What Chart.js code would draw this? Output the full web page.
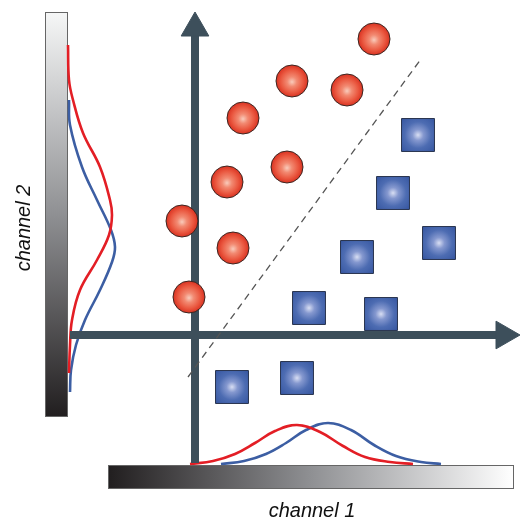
<!DOCTYPE html>
<html>
<head>
<meta charset="utf-8">
<script src="https://cdn.jsdelivr.net/npm/chart.js@4.4.1/dist/chart.umd.min.js"></script>
<style>
  html, body { margin: 0; padding: 0; background: #fff; }
  #wrap { width: 521px; height: 521px; }
</style>
</head>
<body>
<div id="wrap"><canvas id="chart"></canvas></div>
<script>
// values in chart units (origin where the two axes cross)
const redPoints = [
  {x: 17.9, y: 29.6}, {x: 9.7, y: 25.4}, {x: 15.2, y: 24.5},
  {x: 4.8, y: 21.7}, {x: 9.2, y: 16.8}, {x: 3.2, y: 15.3},
  {x: -1.3, y: 11.4}, {x: 3.8, y: 8.7}, {x: -0.6, y: 3.8}
];
const bluePoints = [
  {x: 22.3, y: 20.0}, {x: 19.8, y: 14.2}, {x: 24.4, y: 9.2},
  {x: 16.2, y: 7.8}, {x: 11.4, y: 2.7}, {x: 18.6, y: 2.1},
  {x: 3.7, y: -5.2}, {x: 10.2, y: -4.3}
];
const separator = [{x: -0.7, y: -4.2}, {x: 22.6, y: 27.6}];

// distributions projected on channel 1 (bottom)
const redCh1 = [
  {x: -0.5, y: -12.9}, {x: 1.8, y: -12.6}, {x: 4.0, y: -11.9}, {x: 6.0, y: -10.8},
  {x: 8.0, y: -9.6}, {x: 10.2, y: -9.0}, {x: 12.5, y: -9.7}, {x: 14.8, y: -11.1},
  {x: 17.0, y: -12.2}, {x: 19.5, y: -12.7}, {x: 21.8, y: -12.9}
];
const blueCh1 = [
  {x: 2.6, y: -12.9}, {x: 4.9, y: -12.6}, {x: 7.1, y: -11.9}, {x: 9.1, y: -10.8},
  {x: 11.1, y: -9.5}, {x: 13.3, y: -8.8}, {x: 15.6, y: -9.5}, {x: 17.9, y: -11.0},
  {x: 20.1, y: -12.1}, {x: 22.6, y: -12.7}, {x: 24.6, y: -12.9}
];
// distributions projected on channel 2 (left)
const redCh2 = [
  {x: -12.7, y: 29.0}, {x: -12.6, y: 25.5}, {x: -12.2, y: 23.5}, {x: -11.2, y: 20.2},
  {x: -9.5, y: 16.8}, {x: -8.5, y: 13.5}, {x: -8.3, y: 12.0}, {x: -8.6, y: 10.0},
  {x: -9.8, y: 7.5}, {x: -11.5, y: 4.5}, {x: -12.3, y: 1.5}, {x: -12.5, y: -1.0},
  {x: -12.6, y: -3.8}
];
const blueCh2 = [
  {x: -12.6, y: 23.5}, {x: -12.5, y: 21.0}, {x: -11.3, y: 16.8}, {x: -9.8, y: 13.5},
  {x: -8.4, y: 10.5}, {x: -8.0, y: 8.8}, {x: -8.3, y: 7.3}, {x: -9.5, y: 4.5},
  {x: -11.0, y: 1.5}, {x: -11.9, y: -1.0}, {x: -12.4, y: -3.5}, {x: -12.5, y: -5.7}
];
const axisX = [{x: -12.5, y: 0}, {x: 30.9, y: 0}];
const axisY = [{x: 0, y: -12.8}, {x: 0, y: 30.7}];
const labels = ['channel 1', 'channel 2'];

const AXIS_COLOR = '#3d4f5b';

function pix(ctx) {
  let c = ctx.chart, p = ctx.raw;
  if (!c.scales || !c.scales.x || !c.scales.y) return [NaN, NaN];
  return [c.scales.x.getPixelForValue(p.x), c.scales.y.getPixelForValue(p.y)];
}

function ballFill(ctx) {
  if (!ctx.raw) return '#e8402e';
  let [px, py] = pix(ctx);
  if (!isFinite(px) || !isFinite(py)) return '#e8402e';
  let g = ctx.chart.ctx.createRadialGradient(px, py + 1, 0, px, py, 16);
  g.addColorStop(0, '#f9cbbb');
  g.addColorStop(0.3, '#f28a72');
  g.addColorStop(0.7, '#ea5840');
  g.addColorStop(1, '#d93221');
  return g;
}

function boxFill(ctx) {
  if (!ctx.raw) return '#3d5ba6';
  let [px, py] = pix(ctx);
  if (!isFinite(px) || !isFinite(py)) return '#3d5ba6';
  let g = ctx.chart.ctx.createRadialGradient(px, py, 0, px, py, 22);
  g.addColorStop(0, '#d8def3');
  g.addColorStop(0.25, '#8598cf');
  g.addColorStop(0.6, '#4d6cb2');
  g.addColorStop(1, '#3858a2');
  return g;
}

// gradient strips + channel labels, placed with the chart scales
const decor = {
  id: 'decor',
  beforeDatasetsDraw(chart) {
    let c = chart.ctx, sx = chart.scales.x, sy = chart.scales.y;
    c.save();
    // left strip (channel 2)
    let x0 = sx.getPixelForValue(-15.0), x1 = sx.getPixelForValue(-12.7);
    let y0 = sy.getPixelForValue(32.3), y1 = sy.getPixelForValue(-8.2);
    let g = c.createLinearGradient(0, y0, 0, y1);
    g.addColorStop(0, '#f6f7f7');
    g.addColorStop(0.5, '#8f9093');
    g.addColorStop(1, '#211e1f');
    c.fillStyle = g;
    c.fillRect(x0, y0, x1 - x0, y1 - y0);
    c.strokeStyle = '#666';
    c.lineWidth = 1;
    c.strokeRect(x0 + 0.5, y0 + 0.5, x1 - x0 - 1, y1 - y0 - 1);
    // bottom strip (channel 1)
    x0 = sx.getPixelForValue(-8.7); x1 = sx.getPixelForValue(31.9);
    y0 = sy.getPixelForValue(-13.0); y1 = sy.getPixelForValue(-15.4);
    g = c.createLinearGradient(x0, 0, x1, 0);
    g.addColorStop(0, '#211e1f');
    g.addColorStop(0.5, '#8f9093');
    g.addColorStop(1, '#ffffff');
    c.fillStyle = g;
    c.fillRect(x0, y0, x1 - x0, y1 - y0);
    c.strokeRect(x0 + 0.5, y0 + 0.5, x1 - x0 - 1, y1 - y0 - 1);
    c.restore();
  },
  afterDraw(chart) {
    let c = chart.ctx, sx = chart.scales.x, sy = chart.scales.y;
    c.save();
    c.fillStyle = '#111';
    c.font = 'italic 20px "Liberation Sans", Arial, sans-serif';
    c.textAlign = 'center';
    c.textBaseline = 'alphabetic';
    c.fillText(labels[0], sx.getPixelForValue(11.7), sy.getPixelForValue(-18.2));
    c.translate(sx.getPixelForValue(-16.5), sy.getPixelForValue(10.7));
    c.rotate(-Math.PI / 2);
    c.fillText(labels[1], 0, 0);
    c.restore();
  }
};

function curve(data, color) {
  return {
    data: data, showLine: true, borderColor: color, borderWidth: 2.6,
    pointRadius: 0, tension: 0.4, order: 5
  };
}

new Chart(document.getElementById('chart'), {
  type: 'scatter',
  data: {
    datasets: [
      {data: redPoints, pointStyle: 'circle', pointRadius: 16, pointHoverRadius: 16,
        backgroundColor: ballFill, borderColor: '#3b2622', borderWidth: 1, order: 1},
      {data: bluePoints, pointStyle: 'rect', pointRadius: 23.3, pointHoverRadius: 23.3,
        backgroundColor: boxFill, borderColor: '#2a3550', borderWidth: 1, order: 1},
      {data: separator, showLine: true, borderColor: '#555', borderWidth: 1.3,
        borderDash: [7, 5], pointRadius: 0, order: 3},
      {data: axisX, showLine: true, borderColor: AXIS_COLOR, borderWidth: 8,
        pointRadius: [0, 16], pointStyle: 'triangle', rotation: 90,
        pointBackgroundColor: AXIS_COLOR, pointBorderColor: AXIS_COLOR, pointBorderWidth: 1, order: 4},
      {data: axisY, showLine: true, borderColor: AXIS_COLOR, borderWidth: 8,
        pointRadius: [0, 16], pointStyle: 'triangle', rotation: 0,
        pointBackgroundColor: AXIS_COLOR, pointBorderColor: AXIS_COLOR, pointBorderWidth: 1, order: 4},
      curve(redCh1, '#e31e25'),
      curve(blueCh1, '#3c5ea3'),
      curve(redCh2, '#e31e25'),
      curve(blueCh2, '#3c5ea3')
    ]
  },
  options: {
    responsive: true,
    maintainAspectRatio: false,
    animation: false,
    layout: {padding: 0, autoPadding: false},
    scales: {
      x: {type: 'linear', display: false, min: -19.5, max: 32.6},
      y: {type: 'linear', display: false, min: -18.6, max: 33.5}
    },
    plugins: {legend: {display: false}, tooltip: {enabled: false}}
  },
  plugins: [decor]
});
</script>
</body>
</html>
